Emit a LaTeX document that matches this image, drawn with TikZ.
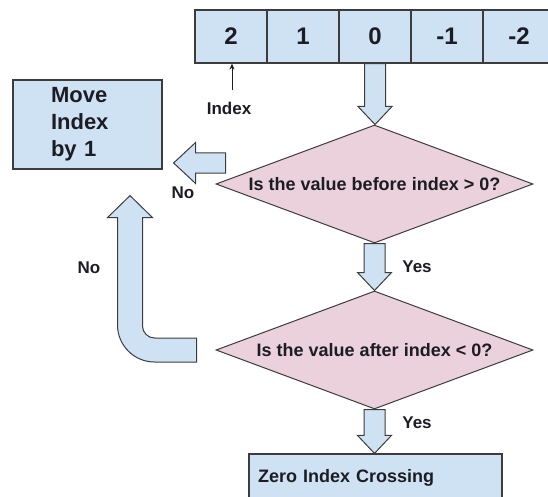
\documentclass[tikz,border=0pt]{standalone}
\usepackage{fontspec}
\setmainfont{Liberation Sans}
\usetikzlibrary{shapes.geometric,calc,arrows.meta}
\definecolor{bluef}{HTML}{CFE2F3}
\definecolor{pinkf}{HTML}{EAD1DC}
\definecolor{edgec}{HTML}{3C3C3C}
\definecolor{txtc}{HTML}{1C1C24}
\newcommand\bdown[2]{\draw[blk] let \p1=(#1), \p2=(#2) in
  (\x1-10.5pt,\y1) -- (\x1+10.5pt,\y1) -- (\x1+10.5pt,\y2+18pt) -- (\x1+17pt,\y2+18pt)
  -- (\x1,\y2) -- (\x1-17pt,\y2+18pt) -- (\x1-10.5pt,\y2+18pt) -- cycle;}
\newcommand\bleft[2]{\draw[blk] let \p1=(#1), \p2=(#2) in
  (\x1,\y1-10pt) -- (\x1,\y1+10pt) -- (\x2+22pt,\y1+10pt) -- (\x2+22pt,\y1+20.5pt)
  -- (\x2,\y1) -- (\x2+22pt,\y1-20.5pt) -- (\x2+22pt,\y1-10pt) -- cycle;}
\begin{document}
\begin{tikzpicture}[x=1pt,y=-1pt,text=txtc,
  cell/.style={draw=edgec, fill=bluef, line width=1.2pt, minimum width=72pt, minimum height=53pt, inner sep=0pt, font=\fontsize{24}{28}\selectfont\bfseries},
  dec/.style={diamond, draw=edgec, fill=pinkf, line width=1pt, minimum width=317pt, minimum height=118pt, aspect=2.69, inner sep=0pt, font=\fontsize{18}{22}\selectfont\bfseries},
  procbox/.style={draw=edgec, fill=bluef, line width=1.2pt, inner sep=0pt, align=left},
  blk/.style={draw=edgec, fill=bluef, line width=1pt, line join=miter},
  lbl/.style={font=\fontsize{17}{20}\selectfont\bfseries, inner sep=0pt}]
\useasboundingbox (0,0) rectangle (548,497);
% array
\node[cell] (c1) at (231,36.5) {2};
\node[cell] (c2) at (303,36.5) {1};
\node[cell] (c3) at (375,36.5) {0};
\node[cell] (c4) at (447,36.5) {-1};
\node[cell] (c5) at (519,36.5) {-2};
% decisions
\node[dec] (d1) at (374.5,184) {Is the value before index > 0?};
\node[dec] (d2) at (374.5,350) {Is the value after index < 0?};
% boxes
\node[procbox, minimum width=149pt, minimum height=89pt, text width=73pt, font=\fontsize{22}{27}\selectfont\bfseries] (mv) at (87.5,124.5) {Move\\Index\\by 1};
\node[procbox, minimum width=253pt, minimum height=48pt, text width=235pt, font=\fontsize{18}{22}\selectfont\bfseries] (zero) at (375.5,478) {Zero Index Crossing};
% index pointer
\coordinate (ix) at (232,90);
\draw[-{Stealth[length=6pt,width=5pt]}, line width=0.9pt, draw=txtc] (ix) -- (ix |- c1.south);
\node[lbl] (ixl) at (229,108) {Index};
% block arrows
\bdown{c3.south}{d1.north}
\bdown{d1.south}{d2.north}
\bdown{d2.south}{zero.north}
\coordinate (noS) at ($(d1.west)+(10,-21)$);
\coordinate (noT) at ($(mv.east)+(11,38.5)$);
\bleft{noS}{noT}
\coordinate (bS) at ($(d2.west)+(-19,0)$);
\coordinate (bT) at ($(mv.south)+(42.5,26)$);
\draw[blk] let \p1=(bS), \p2=(bT) in
  (\x2,\y2) -- (\x2+22.5pt,\y2-22pt) -- (\x2+12.5pt,\y2-22pt)
  -- (\x2+12.5pt,\y1+24pt)
  .. controls (\x2+12.5pt,\y1+17.4pt) and (\x2+17.9pt,\y1+12pt) .. (\x2+24.5pt,\y1+12pt)
  -- (\x1,\y1+12pt) -- (\x1,\y1-12pt) -- (\x2+24.5pt,\y1-12pt)
  .. controls (\x2+4.1pt,\y1-12pt) and (\x2-12.5pt,\y1+4.6pt) .. (\x2-12.5pt,\y1+25pt)
  -- (\x2-12.5pt,\y2-22pt) -- (\x2-22.5pt,\y2-22pt) -- cycle;
% labels
\node[lbl] (no1) at (183,193) {No};
\node[lbl] (no2) at (89,268) {No};
\node[lbl] (y1) at (417,267) {Yes};
\node[lbl] (y2) at (417,423) {Yes};
\end{tikzpicture}
\end{document}
